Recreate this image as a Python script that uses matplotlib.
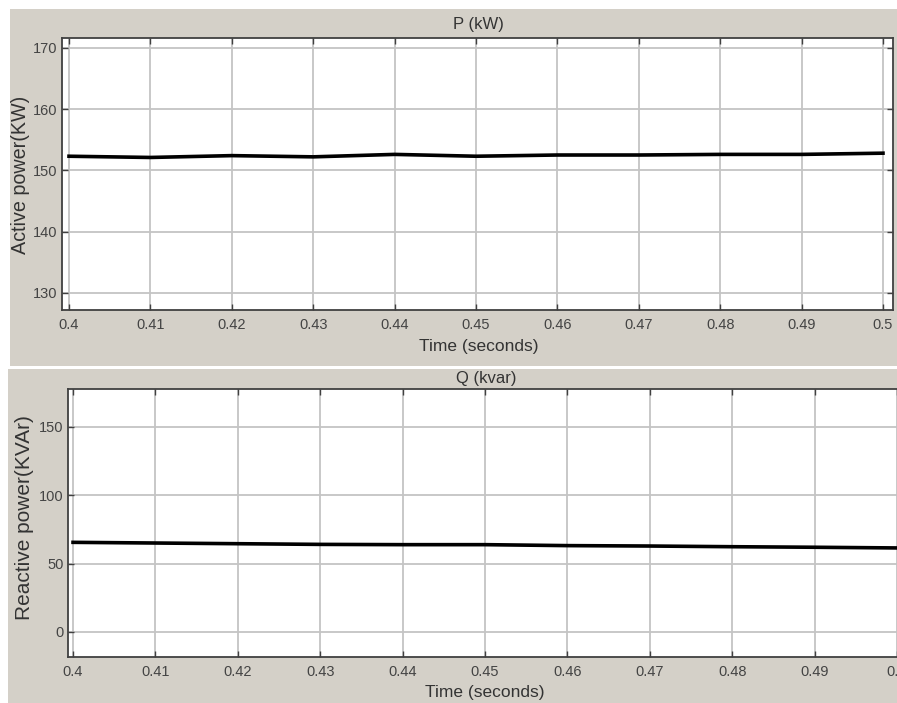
import matplotlib
matplotlib.use("Agg")
import matplotlib.pyplot as plt
from matplotlib.patches import Rectangle

# data
t = [0.40, 0.41, 0.42, 0.43, 0.44, 0.45, 0.46, 0.47, 0.48, 0.49, 0.50]
p_kw = [152.3, 152.1, 152.4, 152.2, 152.6, 152.3, 152.5, 152.5, 152.6, 152.6, 152.8]
q_kvar = [65.6, 65.1, 64.6, 64.1, 63.9, 63.9, 63.2, 62.9, 62.4, 62.0, 61.5]
x_ticks = [0.4, 0.41, 0.42, 0.43, 0.44, 0.45, 0.46, 0.47, 0.48, 0.49, 0.5]
x_ticklabels = ["0.4", "0.41", "0.42", "0.43", "0.44", "0.45", "0.46", "0.47", "0.48", "0.49", "0.5"]
p_ticks = [130, 140, 150, 160, 170]
q_ticks = [0, 50, 100, 150]

W, H = 897, 703
BG = "#d4d0c8"
TXT = "#333333"

plt.rcParams["font.family"] = ["Liberation Sans", "DejaVu Sans"]

fig = plt.figure(figsize=(W / 100, H / 100), dpi=100, facecolor="white")


def fx(x):
    return x / W


def fy(y):
    return 1 - y / H


# grey scope panels, kept behind the axes
fig.patches.append(Rectangle((fx(10), fy(366)), fx(897 - 10), (366 - 9) / H,
                             transform=fig.transFigure, facecolor=BG, edgecolor="none", zorder=-5))
fig.patches.append(Rectangle((fx(8), fy(703)), fx(897 - 8), (703 - 369) / H,
                             transform=fig.transFigure, facecolor=BG, edgecolor="none", zorder=-5))


def style(ax, yticks):
    ax.set_facecolor("white")
    ax.set_xticks(x_ticks)
    ax.set_xticklabels(x_ticklabels)
    ax.set_yticks(yticks)
    ax.grid(True, color="#c4c4c4", lw=1.3)
    ax.tick_params(direction="in", length=4, width=1, color="#404040",
                   top=True, right=True, labelsize=10.5, labelcolor="#444444", pad=6)
    ax.tick_params(axis="y", pad=3)
    for s in ax.spines.values():
        s.set_color("#404040")
        s.set_linewidth(1.3)
    ax.set_axisbelow(True)


ax1 = fig.add_axes([fx(62), fy(310), fx(893 - 62), (310 - 38) / H])
ax1.plot(t, p_kw, color="black", lw=2.6)
ax1.set_xlim(0.39914, 0.50123)
ax1.set_ylim(127.2, 171.6)
style(ax1, p_ticks)

ax2 = fig.add_axes([fx(68), fy(657), fx(907 - 68), (657 - 389) / H])
ax2.plot(t, q_kvar, color="black", lw=2.6)
ax2.set_xlim(0.39939, 0.50121)
ax2.set_ylim(-18.3, 177.8)
style(ax2, q_ticks)

fig.text(fx(478), fy(24), "P (kW)", ha="center", va="center", fontsize=12, color=TXT)
fig.text(fx(479), fy(347), "Time (seconds)", ha="center", va="center", fontsize=12.5, color=TXT)
fig.text(fx(21), fy(175), "Active power(KW)", ha="center", va="center", rotation=90,
         fontsize=14.2, color=TXT)

fig.text(fx(486), fy(379), "Q (kvar)", ha="center", va="center", fontsize=12, color=TXT)
fig.text(fx(485), fy(692), "Time (seconds)", ha="center", va="center", fontsize=12.5, color=TXT)
fig.text(fx(25), fy(518), "Reactive power(KVAr)", ha="center", va="center", rotation=90,
         fontsize=15, color=TXT)

fig.savefig("out.png", dpi=100, facecolor="white")
